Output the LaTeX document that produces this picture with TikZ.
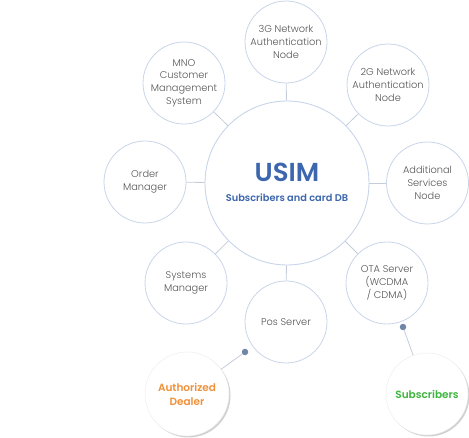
\documentclass[tikz,border=0pt]{standalone}
\usepackage{fontspec}
\setmainfont{Poppins}[UprightFont=* Light, BoldFont=* SemiBold]
\usetikzlibrary{shadows}
\definecolor{ringc}{HTML}{C9D5EA}
\definecolor{linec}{HTML}{C4CCD8}
\definecolor{txtc}{HTML}{555555}
\definecolor{usimc}{HTML}{3C66AE}
\definecolor{dotc}{HTML}{6F86A8}
\definecolor{dealc}{HTML}{F0913A}
\definecolor{subc}{HTML}{3DB53D}
\tikzset{
  sat/.style={circle, draw=ringc, line width=0.8pt, fill=white, minimum size=82pt, inner sep=0pt,
    align=center, font=\fontsize{9.8}{12.8}\selectfont, text=txtc},
  hub/.style={circle, draw=ringc, line width=0.9pt, fill=white, minimum size=164pt, inner sep=0pt},
  conn/.style={draw=linec, line width=0.8pt},
  ext/.style={circle, fill=white, draw=black!8, line width=0.4pt, minimum size=82pt, inner sep=0pt, align=center,
    font=\bfseries\fontsize{10.5}{14}\selectfont,
    drop shadow={shadow xshift=1.5pt, shadow yshift=-1.5pt, opacity=0.18, fill=black}},
  dotn/.style={circle, fill=dotc, inner sep=0pt, minimum size=6.5pt}
}
\begin{document}
\begin{tikzpicture}[x=1pt,y=-1pt]
\useasboundingbox (0,0) rectangle (469,438);
\node[hub] (c) at (287,183) {};
\node[font=\bfseries\fontsize{26}{30}\selectfont, text=usimc] (usim) at (287,172) {USIM};
\node[font=\bfseries\fontsize{9.8}{12}\selectfont, text=usimc] (db) at (287,198) {Subscribers and card DB};
\node[sat] (n3g) at (286,42) {3G Network\\Authentication\\Node};
\node[sat] (mno) at (184,83) {MNO\\Customer\\Management\\System};
\node[sat] (n2g) at (388,85) {2G Network\\Authentication\\Node};
\node[sat] (ord) at (145,182) {Order\\Manager};
\node[sat] (add) at (427.5,183) {Additional\\Services\\Node};
\node[sat] (sys) at (186,283) {Systems\\Manager};
\node[sat] (ota) at (387,283) {OTA Server\\(WCDMA\\/ CDMA)};
\node[sat] (pos) at (286,322) {Pos Server};
\foreach \n in {n3g,mno,n2g,ord,add,sys,ota,pos} \draw[conn] (c) -- (\n);
\node[ext, text=dealc, minimum size=84pt] (dealer) at (187,394) {Authorized\\Dealer};
\node[ext, text=subc] (subs) at (427,394) {Subscribers};
\node[dotn] (pdot) at (245,352) {};
\node[dotn] (odot) at (403,327) {};
\draw[conn] (pdot) -- (dealer);
\draw[conn] (odot) -- (subs);
\end{tikzpicture}
\end{document}
